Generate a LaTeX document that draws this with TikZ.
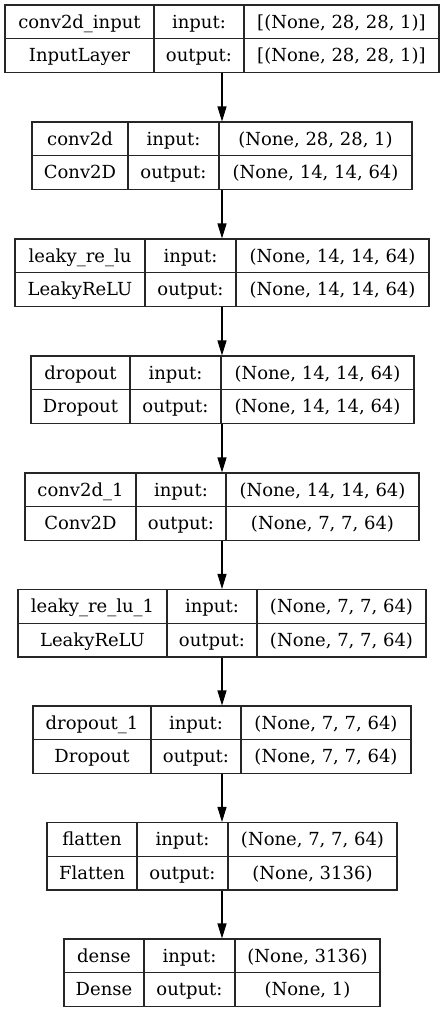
\documentclass[tikz,border=0pt]{standalone}
\usepackage{fontspec}
\setmainfont{DejaVu Serif}
\usetikzlibrary{arrows.meta}
\tikzset{
  boxframe/.style={draw=black!85, line width=1.1pt, inner sep=0pt},
  divline/.style={draw=black!85, line width=1.1pt},
  lbl/.style={inner sep=0pt, font=\fontsize{18}{20}\selectfont, anchor=center},
  arr/.style={draw=black, line width=1.1pt, -{Triangle[length=15pt,width=9pt]}}
}
% #1 id, #2 top, #3 left, #4 d1, #5 d2, #6 right
\newcommand\lbox[6]{%
  \node[boxframe, minimum width={(#6-#3)*1pt}, minimum height=67.5pt] (#1) at ({(#3+#6)/2},{#2+33.75}) {};
  \draw[divline] (#4,#2) -- (#4,#2+67.5);
  \draw[divline] (#5,#2) -- (#5,#2+67.5);
  \draw[divline] (#3,#2+33.75) -- (#6,#2+33.75);
  \coordinate (#1-na) at ({(#3+#4)/2},{#2+19});
  \coordinate (#1-ty) at ({(#3+#4)/2},{#2+52.5});
  \coordinate (#1-ia) at ({(#4+#5)/2},{#2+19});
  \coordinate (#1-oa) at ({(#4+#5)/2},{#2+52.5});
  \coordinate (#1-iv) at ({(#5+#6)/2},{#2+19});
  \coordinate (#1-ov) at ({(#5+#6)/2},{#2+52.5});
}
% #1 id, #2 name, #3 type, #4 input shape, #5 output shape
\newcommand\ltext[5]{%
  \node[lbl] (#1-name) at (#1-na) {\strut #2};
  \node[lbl] (#1-type) at (#1-ty) {\strut #3};
  \node[lbl] (#1-inl) at (#1-ia) {\strut input:};
  \node[lbl] (#1-outl) at (#1-oa) {\strut output:};
  \node[lbl] (#1-inv) at (#1-iv) {\strut #4};
  \node[lbl] (#1-outv) at (#1-ov) {\strut #5};
}
\begin{document}
\begin{tikzpicture}[x=1pt,y=-1pt]
\useasboundingbox (0,0) rectangle (445,1013);
\fill[white] (0,0) rectangle (445,1013);

\lbox{L1}{5}{5}{154}{244}{439}
\ltext{L1}{conv2d\_input}{InputLayer}{[(None, 28, 28, 1)]}{[(None, 28, 28, 1)]}

\lbox{L2}{122}{32}{128}{219}{412}
\ltext{L2}{conv2d}{Conv2D}{(None, 28, 28, 1)}{(None, 14, 14, 64)}

\lbox{L3}{239}{15}{145}{236}{429}
\ltext{L3}{leaky\_re\_lu}{LeakyReLU}{(None, 14, 14, 64)}{(None, 14, 14, 64)}

\lbox{L4}{356}{31}{130}{221}{414}
\ltext{L4}{dropout}{Dropout}{(None, 14, 14, 64)}{(None, 14, 14, 64)}

\lbox{L5}{473}{25}{136}{226}{419}
\ltext{L5}{conv2d\_1}{Conv2D}{(None, 14, 14, 64)}{(None, 7, 7, 64)}

\lbox{L6}{589.5}{18}{167}{257}{426}
\ltext{L6}{leaky\_re\_lu\_1}{LeakyReLU}{(None, 7, 7, 64)}{(None, 7, 7, 64)}

\lbox{L7}{706}{33}{151}{241}{411}
\ltext{L7}{dropout\_1}{Dropout}{(None, 7, 7, 64)}{(None, 7, 7, 64)}

\lbox{L8}{822.5}{47}{137}{228}{397}
\ltext{L8}{flatten}{Flatten}{(None, 7, 7, 64)}{(None, 3136)}

\lbox{L9}{939}{64}{144}{235}{380}
\ltext{L9}{dense}{Dense}{(None, 3136)}{(None, 1)}

\foreach \a/\b in {L1/L2,L2/L3,L3/L4,L4/L5,L5/L6,L6/L7,L7/L8,L8/L9}
  \draw[arr] (\a.south -| L1.south) -- (\b.north -| L1.south);
\end{tikzpicture}
\end{document}
